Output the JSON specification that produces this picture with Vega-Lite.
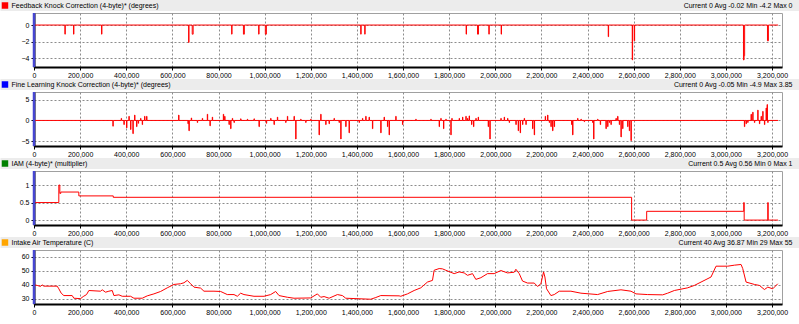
{
"$schema": "https://vega.github.io/schema/vega-lite/v6.json",
"padding": 0,
"background": "white",
"autosize": {"type": "pad"},
"config": {
  "font": "Liberation Sans",
  "view": {"stroke": "#a0a0a0"},
  "axis": {"labelFont": "Liberation Sans", "labelFontSize": 7, "labelColor": "#000", "tickColor": "#000", "tickSize": 3, "labelPadding": 2, "domainColor": "#000", "domainWidth": 2, "gridColor": "#8c8c8c", "gridDash": [2, 2], "gridWidth": 1, "title": null, "labelOverlap": false},
  "axisX": {"labelPadding": 1}
},
"datasets": {
  "fkc": [{"t":0,"v":0},{"t":134000,"v":-1.1},{"t":135500,"v":0},{"t":171400,"v":-1.1},{"t":172900,"v":0},{"t":292900,"v":-1.1},{"t":294400,"v":0},{"t":670400,"v":-2.1},{"t":671900,"v":0},{"t":686000,"v":-1.1},{"t":690000,"v":0},{"t":857000,"v":-1.1},{"t":858500,"v":0},{"t":908000,"v":-1.1},{"t":912000,"v":0},{"t":974100,"v":-1.1},{"t":975600,"v":0},{"t":1003000,"v":-1.1},{"t":1007500,"v":0},{"t":1416700,"v":-1.1},{"t":1418200,"v":0},{"t":1434000,"v":-1.1},{"t":1435500,"v":0},{"t":1873600,"v":-1.1},{"t":1875100,"v":0},{"t":1923000,"v":-1.1},{"t":1927000,"v":0},{"t":1972100,"v":-1.1},{"t":1973600,"v":0},{"t":2025400,"v":-1.1},{"t":2026900,"v":0},{"t":2489700,"v":-1.4},{"t":2491200,"v":0},{"t":2593800,"v":-4.2},{"t":2595300,"v":0},{"t":2602500,"v":-1.9},{"t":2604000,"v":0},{"t":3076000,"v":-4.2},{"t":3078500,"v":-3.7},{"t":3081000,"v":0},{"t":3180000,"v":-1.9},{"t":3184000,"v":0},{"t":3226000,"v":0}],
  "flkc": [{"t":0,"v":0},{"t":342000,"v":-1.4},{"t":343500,"v":0},{"t":378200,"v":0.5},{"t":379700,"v":0},{"t":389800,"v":-1.0},{"t":391300,"v":0},{"t":401300,"v":-1.8},{"t":402800,"v":0},{"t":411500,"v":1.0},{"t":413000,"v":0},{"t":418700,"v":-2.2},{"t":420200,"v":0},{"t":428800,"v":-3.2},{"t":430300,"v":0},{"t":436100,"v":1.3},{"t":437600,"v":0},{"t":444700,"v":-1.5},{"t":446200,"v":0},{"t":452000,"v":-0.7},{"t":453500,"v":0},{"t":462100,"v":0.5},{"t":463600,"v":0},{"t":469300,"v":-1.0},{"t":470800,"v":0},{"t":479400,"v":1.0},{"t":480900,"v":0},{"t":488100,"v":1.0},{"t":489600,"v":0},{"t":627000,"v":1.3},{"t":628500,"v":0},{"t":667500,"v":-0.8},{"t":669000,"v":0},{"t":671800,"v":-2.5},{"t":673300,"v":0},{"t":681900,"v":0.6},{"t":683400,"v":0},{"t":708000,"v":-0.5},{"t":709500,"v":0},{"t":729700,"v":0.5},{"t":731200,"v":0},{"t":751400,"v":1.5},{"t":752900,"v":0},{"t":762900,"v":-1.3},{"t":764400,"v":0},{"t":773000,"v":0.8},{"t":774500,"v":0},{"t":820800,"v":1.5},{"t":822300,"v":0},{"t":826600,"v":1.0},{"t":828100,"v":0},{"t":845400,"v":-1.0},{"t":846900,"v":0},{"t":852600,"v":-2.0},{"t":854100,"v":0},{"t":859800,"v":0.5},{"t":861300,"v":0},{"t":867100,"v":-0.5},{"t":868600,"v":0},{"t":896000,"v":0.4},{"t":897500,"v":0},{"t":924900,"v":0.3},{"t":926400,"v":0},{"t":953800,"v":0.4},{"t":955300,"v":0},{"t":975500,"v":-1.5},{"t":977000,"v":0},{"t":1007300,"v":-0.7},{"t":1008800,"v":0},{"t":1026100,"v":0.5},{"t":1027600,"v":0},{"t":1040600,"v":-1.0},{"t":1042100,"v":0},{"t":1055100,"v":0.8},{"t":1056600,"v":0},{"t":1091200,"v":-0.5},{"t":1092700,"v":0},{"t":1098500,"v":1.0},{"t":1100000,"v":0},{"t":1127400,"v":1.0},{"t":1128900,"v":0},{"t":1134600,"v":-4.5},{"t":1136100,"v":0},{"t":1156300,"v":0.3},{"t":1157800,"v":0},{"t":1178000,"v":-0.5},{"t":1179500,"v":0},{"t":1199700,"v":0.3},{"t":1201200,"v":0},{"t":1235900,"v":-3.5},{"t":1237400,"v":0},{"t":1243100,"v":1.5},{"t":1244600,"v":0},{"t":1264800,"v":-1.0},{"t":1266300,"v":0},{"t":1279300,"v":-0.8},{"t":1280800,"v":0},{"t":1300900,"v":0.5},{"t":1302400,"v":0},{"t":1322600,"v":-0.5},{"t":1324100,"v":0},{"t":1329900,"v":-4.5},{"t":1331400,"v":0},{"t":1351600,"v":-1.5},{"t":1353100,"v":0},{"t":1366000,"v":-3.0},{"t":1367500,"v":0},{"t":1409400,"v":-0.5},{"t":1410900,"v":0},{"t":1423900,"v":0.5},{"t":1425400,"v":0},{"t":1438300,"v":1.0},{"t":1439800,"v":0},{"t":1452800,"v":0.8},{"t":1454300,"v":0},{"t":1467300,"v":-2.0},{"t":1468800,"v":0},{"t":1503400,"v":-3.0},{"t":1504900,"v":0},{"t":1517900,"v":0.8},{"t":1519400,"v":0},{"t":1532400,"v":-1.5},{"t":1533900,"v":0},{"t":1539600,"v":-3.5},{"t":1541100,"v":0},{"t":1568500,"v":1.0},{"t":1570000,"v":0},{"t":1597500,"v":-1.0},{"t":1599000,"v":0},{"t":1655300,"v":0.3},{"t":1656800,"v":0},{"t":1720400,"v":0.3},{"t":1721900,"v":0},{"t":1756600,"v":-1.5},{"t":1758100,"v":0},{"t":1763800,"v":0.5},{"t":1765300,"v":0},{"t":1775400,"v":-2.0},{"t":1776900,"v":0},{"t":1785500,"v":0.3},{"t":1787000,"v":0},{"t":1807200,"v":-3.5},{"t":1808700,"v":0},{"t":1811500,"v":0.5},{"t":1813000,"v":0},{"t":1843300,"v":0.5},{"t":1844800,"v":0},{"t":1857800,"v":0.8},{"t":1859300,"v":0},{"t":1872300,"v":1.0},{"t":1873800,"v":0},{"t":1879500,"v":0.5},{"t":1881000,"v":0},{"t":1886700,"v":1.1},{"t":1888200,"v":0},{"t":1896900,"v":-1.0},{"t":1898400,"v":0},{"t":1905500,"v":-1.5},{"t":1907000,"v":0},{"t":1915700,"v":0.5},{"t":1917200,"v":0},{"t":1925800,"v":0.8},{"t":1927300,"v":0},{"t":1969200,"v":-1.5},{"t":1970700,"v":0},{"t":1976400,"v":-4.5},{"t":1977900,"v":0},{"t":2024100,"v":0.5},{"t":2025600,"v":0},{"t":2038600,"v":0.8},{"t":2040100,"v":0},{"t":2053100,"v":0.5},{"t":2054600,"v":0},{"t":2060300,"v":-0.5},{"t":2061800,"v":0},{"t":2089200,"v":-1.0},{"t":2090700,"v":0},{"t":2099300,"v":-2.5},{"t":2100800,"v":0},{"t":2108000,"v":-3.0},{"t":2109500,"v":0},{"t":2118100,"v":-1.0},{"t":2119600,"v":0},{"t":2125400,"v":0.5},{"t":2126900,"v":0},{"t":2132600,"v":-1.0},{"t":2134100,"v":0},{"t":2161500,"v":-2.0},{"t":2163000,"v":0},{"t":2168800,"v":-3.5},{"t":2170300,"v":0},{"t":2216500,"v":1.0},{"t":2218000,"v":0},{"t":2226600,"v":1.3},{"t":2228100,"v":0},{"t":2233900,"v":-0.5},{"t":2235400,"v":0},{"t":2241100,"v":-1.5},{"t":2242600,"v":0},{"t":2248300,"v":-2.5},{"t":2249800,"v":0},{"t":2255500,"v":-1.5},{"t":2257000,"v":0},{"t":2330800,"v":-1.0},{"t":2332300,"v":0},{"t":2335100,"v":-3.5},{"t":2336600,"v":0},{"t":2356800,"v":0.5},{"t":2358300,"v":0},{"t":2371300,"v":0.3},{"t":2372800,"v":0},{"t":2385700,"v":-0.3},{"t":2387200,"v":0},{"t":2421900,"v":-0.5},{"t":2423400,"v":0},{"t":2426200,"v":-4.5},{"t":2427700,"v":0},{"t":2443600,"v":0.3},{"t":2445100,"v":0},{"t":2455100,"v":-1.0},{"t":2456600,"v":0},{"t":2479700,"v":-2.0},{"t":2481200,"v":0},{"t":2487000,"v":-1.5},{"t":2488500,"v":0},{"t":2494200,"v":-0.5},{"t":2495700,"v":0},{"t":2501400,"v":-1.0},{"t":2502900,"v":0},{"t":2523100,"v":0.5},{"t":2524600,"v":0},{"t":2530300,"v":1.0},{"t":2531800,"v":0},{"t":2537600,"v":-1.0},{"t":2539100,"v":0},{"t":2544800,"v":-4.0},{"t":2546300,"v":0},{"t":2552000,"v":-2.0},{"t":2553500,"v":0},{"t":2573700,"v":-1.5},{"t":2575200,"v":0},{"t":2581000,"v":-2.5},{"t":2582500,"v":0},{"t":2588200,"v":-4.9},{"t":2589700,"v":0},{"t":3079900,"v":-1.5},{"t":3081400,"v":0},{"t":3087200,"v":-0.8},{"t":3088700,"v":0},{"t":3094400,"v":-0.5},{"t":3095900,"v":0},{"t":3108900,"v":1.5},{"t":3110400,"v":0},{"t":3116100,"v":2.0},{"t":3117600,"v":0},{"t":3123400,"v":-0.5},{"t":3124900,"v":0},{"t":3137800,"v":2.5},{"t":3139300,"v":0},{"t":3145100,"v":-0.8},{"t":3146600,"v":0},{"t":3152300,"v":1.0},{"t":3153800,"v":0},{"t":3159500,"v":2.2},{"t":3161000,"v":0},{"t":3166800,"v":-1.0},{"t":3168300,"v":0},{"t":3174000,"v":3.0},{"t":3175500,"v":0},{"t":3178400,"v":3.85},{"t":3179900,"v":0},{"t":3181300,"v":-0.5},{"t":3182800,"v":0},{"t":3226000,"v":0}],
  "iam": [{"t":0,"v":0.5},{"t":107600,"v":1.0},{"t":112000,"v":0.76},{"t":116000,"v":0.8},{"t":194400,"v":0.69},{"t":343600,"v":0.65},{"t":2591000,"v":0},{"t":2656300,"v":0.25},{"t":3077200,"v":0.5},{"t":3079000,"v":0},{"t":3181400,"v":0.5},{"t":3183000,"v":0},{"t":3226000,"v":0}],
  "iat": [{"t":0,"v":40.1},{"t":13700,"v":39.6},{"t":28200,"v":38.9},{"t":35400,"v":40.0},{"t":42700,"v":39.1},{"t":100500,"v":39.1},{"t":107700,"v":37.2},{"t":117900,"v":34.1},{"t":129400,"v":32.4},{"t":165600,"v":32.4},{"t":172800,"v":30.5},{"t":201800,"v":30.2},{"t":213300,"v":31.7},{"t":227800,"v":33.1},{"t":237900,"v":36.0},{"t":288500,"v":35.5},{"t":295800,"v":36.5},{"t":310200,"v":34.8},{"t":324700,"v":35.5},{"t":339200,"v":36.0},{"t":346400,"v":32.4},{"t":368100,"v":32.9},{"t":382600,"v":31.9},{"t":418700,"v":31.9},{"t":433200,"v":30.5},{"t":469300,"v":30.5},{"t":491000,"v":32.2},{"t":519900,"v":33.6},{"t":548900,"v":35.3},{"t":577800,"v":37.9},{"t":606700,"v":40.3},{"t":635600,"v":40.8},{"t":650100,"v":41.5},{"t":664600,"v":43.2},{"t":679000,"v":40.8},{"t":693500,"v":38.4},{"t":722400,"v":37.7},{"t":736900,"v":35.5},{"t":780300,"v":35.5},{"t":809200,"v":35.3},{"t":838100,"v":33.1},{"t":867100,"v":33.1},{"t":881500,"v":31.9},{"t":896000,"v":34.1},{"t":910400,"v":33.1},{"t":953800,"v":31.9},{"t":997200,"v":31.9},{"t":1026100,"v":33.1},{"t":1047800,"v":35.3},{"t":1062300,"v":32.4},{"t":1098500,"v":31.2},{"t":1127400,"v":30.5},{"t":1199700,"v":30.7},{"t":1228600,"v":33.6},{"t":1243100,"v":31.2},{"t":1257600,"v":31.7},{"t":1279300,"v":30.5},{"t":1315400,"v":33.1},{"t":1337100,"v":32.4},{"t":1351600,"v":30.5},{"t":1460100,"v":29.8},{"t":1481800,"v":31.0},{"t":1503400,"v":32.4},{"t":1583000,"v":32.2},{"t":1590200,"v":31.9},{"t":1619200,"v":33.6},{"t":1648100,"v":36.0},{"t":1677000,"v":37.9},{"t":1705900,"v":42.0},{"t":1727600,"v":43.2},{"t":1734900,"v":50.4},{"t":1756600,"v":51.6},{"t":1771000,"v":51.4},{"t":1785500,"v":50.4},{"t":1821700,"v":48.0},{"t":1843300,"v":49.2},{"t":1865100,"v":48.5},{"t":1879500,"v":46.8},{"t":1901200,"v":48.0},{"t":1915700,"v":43.9},{"t":1937400,"v":45.1},{"t":1966300,"v":48.0},{"t":1995200,"v":48.0},{"t":2024100,"v":50.2},{"t":2053100,"v":48.5},{"t":2082000,"v":49.0},{"t":2089200,"v":51.1},{"t":2103700,"v":48.0},{"t":2118100,"v":42.7},{"t":2139900,"v":41.3},{"t":2168800,"v":41.3},{"t":2183200,"v":38.9},{"t":2197700,"v":40.8},{"t":2209300,"v":49.2},{"t":2215000,"v":45.6},{"t":2222300,"v":37.2},{"t":2241100,"v":32.4},{"t":2255500,"v":33.1},{"t":2277200,"v":35.5},{"t":2327800,"v":35.5},{"t":2371300,"v":34.1},{"t":2443600,"v":33.1},{"t":2487000,"v":35.3},{"t":2544800,"v":36.5},{"t":2588200,"v":35.5},{"t":2609900,"v":33.6},{"t":2660500,"v":33.1},{"t":2725600,"v":32.9},{"t":2747300,"v":34.1},{"t":2776200,"v":36.0},{"t":2834100,"v":37.9},{"t":2863000,"v":39.6},{"t":2891900,"v":42.0},{"t":2935300,"v":45.6},{"t":2957000,"v":53.3},{"t":3007600,"v":53.3},{"t":3036500,"v":54.0},{"t":3065500,"v":54.5},{"t":3072700,"v":51.6},{"t":3087200,"v":42.0},{"t":3123400,"v":40.3},{"t":3145100,"v":39.6},{"t":3166800,"v":36.7},{"t":3181300,"v":38.4},{"t":3202900,"v":37.2},{"t":3224600,"v":40.8}]
},
"columns": 1,
"spacing": 0,
"concat": [
 {"columns": 1, "spacing": 0, "concat": [
  {"width": 748, "height": 11, "view": {"stroke": null},
   "data": {"values": [{"title": "Feedback Knock Correction (4-byte)* (degrees)", "stats": "Current 0 Avg -0.02 Min -4.2 Max 0"}]},
   "layer": [
    {"mark": {"type": "rect", "clip": false, "color": "#ececec"}, "encoding": {"x": {"datum": -0.0448, "type": "quantitative", "scale": {"domain": [0, 1]}, "axis": null}, "x2": {"datum": 1.0234}, "y": {"datum": 0, "type": "quantitative", "scale": {"domain": [0, 1]}, "axis": null}, "y2": {"datum": 1}}},
    {"mark": {"type": "square", "size": 42, "color": "#ff0000", "opacity": 1, "filled": true, "clip": false}, "encoding": {"x": {"datum": -0.0388, "type": "quantitative", "scale": {"domain": [0, 1]}}, "y": {"datum": 0.5, "type": "quantitative", "scale": {"domain": [0, 1]}}}},
    {"mark": {"type": "text", "align": "left", "baseline": "middle", "fontSize": 7, "color": "#000", "clip": false}, "encoding": {"x": {"datum": -0.0301, "type": "quantitative", "scale": {"domain": [0, 1]}}, "y": {"datum": 0.5, "type": "quantitative", "scale": {"domain": [0, 1]}}, "text": {"field": "title"}}},
    {"mark": {"type": "text", "align": "right", "baseline": "middle", "fontSize": 7, "color": "#000", "clip": false}, "encoding": {"x": {"datum": 1.014, "type": "quantitative", "scale": {"domain": [0, 1]}}, "y": {"datum": 0.5, "type": "quantitative", "scale": {"domain": [0, 1]}}, "text": {"field": "stats"}}}
   ]},
  {"width": 748, "height": 54,
   "layer": [
    {"data": {"name": "fkc"}, "mark": {"type": "line", "color": "#ff0000", "strokeWidth": 1, "interpolate": "step-after", "clip": true}, "encoding": {"x": {"field": "t", "type": "quantitative", "scale": {"domain": [0, 3243000], "nice": false}, "axis": {"values": [0,50000,100000,150000,200000,250000,300000,350000,400000,450000,500000,550000,600000,650000,700000,750000,800000,850000,900000,950000,1000000,1050000,1100000,1150000,1200000,1250000,1300000,1350000,1400000,1450000,1500000,1550000,1600000,1650000,1700000,1750000,1800000,1850000,1900000,1950000,2000000,2050000,2100000,2150000,2200000,2250000,2300000,2350000,2400000,2450000,2500000,2550000,2600000,2650000,2700000,2750000,2800000,2850000,2900000,2950000,3000000,3050000,3100000,3150000,3200000], "labelExpr": "datum.value % 200000 === 0 ? format(datum.value, ',d') : ''", "labelFlush": false, "labelOverlap": false, "grid": true, "gridOpacity": {"condition": {"test": "datum.value % 200000 === 0", "value": 1}, "value": 0}}}, "y": {"field": "v", "type": "quantitative", "scale": {"domain": [-5.05, 1.45], "nice": false, "zero": false}, "axis": {"values": [-4, -2, 0], "labelOverlap": false, "grid": true}}}},
    {"data": {"values": [{"cursor": 0}]}, "mark": {"type": "rule", "color": "#4646d2", "strokeWidth": 2.5}, "encoding": {"x": {"field": "cursor", "type": "quantitative"}}}
   ]}
 ]},
 {"columns": 1, "spacing": 0, "concat": [
  {"width": 748, "height": 11, "view": {"stroke": null},
   "data": {"values": [{"title": "Fine Learning Knock Correction (4-byte)* (degrees)", "stats": "Current 0 Avg -0.05 Min -4.9 Max 3.85"}]},
   "layer": [
    {"mark": {"type": "rect", "clip": false, "color": "#ececec"}, "encoding": {"x": {"datum": -0.0448, "type": "quantitative", "scale": {"domain": [0, 1]}, "axis": null}, "x2": {"datum": 1.0234}, "y": {"datum": 0, "type": "quantitative", "scale": {"domain": [0, 1]}, "axis": null}, "y2": {"datum": 1}}},
    {"mark": {"type": "square", "size": 42, "color": "#0000ff", "opacity": 1, "filled": true, "clip": false}, "encoding": {"x": {"datum": -0.0388, "type": "quantitative", "scale": {"domain": [0, 1]}}, "y": {"datum": 0.5, "type": "quantitative", "scale": {"domain": [0, 1]}}}},
    {"mark": {"type": "text", "align": "left", "baseline": "middle", "fontSize": 7, "color": "#000", "clip": false}, "encoding": {"x": {"datum": -0.0301, "type": "quantitative", "scale": {"domain": [0, 1]}}, "y": {"datum": 0.5, "type": "quantitative", "scale": {"domain": [0, 1]}}, "text": {"field": "title"}}},
    {"mark": {"type": "text", "align": "right", "baseline": "middle", "fontSize": 7, "color": "#000", "clip": false}, "encoding": {"x": {"datum": 1.014, "type": "quantitative", "scale": {"domain": [0, 1]}}, "y": {"datum": 0.5, "type": "quantitative", "scale": {"domain": [0, 1]}}, "text": {"field": "stats"}}}
   ]},
  {"width": 748, "height": 54,
   "layer": [
    {"data": {"name": "flkc"}, "mark": {"type": "line", "color": "#ff0000", "strokeWidth": 1, "interpolate": "step-after", "clip": true}, "encoding": {"x": {"field": "t", "type": "quantitative", "scale": {"domain": [0, 3243000], "nice": false}, "axis": {"values": [0,50000,100000,150000,200000,250000,300000,350000,400000,450000,500000,550000,600000,650000,700000,750000,800000,850000,900000,950000,1000000,1050000,1100000,1150000,1200000,1250000,1300000,1350000,1400000,1450000,1500000,1550000,1600000,1650000,1700000,1750000,1800000,1850000,1900000,1950000,2000000,2050000,2100000,2150000,2200000,2250000,2300000,2350000,2400000,2450000,2500000,2550000,2600000,2650000,2700000,2750000,2800000,2850000,2900000,2950000,3000000,3050000,3100000,3150000,3200000], "labelExpr": "datum.value % 200000 === 0 ? format(datum.value, ',d') : ''", "labelFlush": false, "labelOverlap": false, "grid": true, "gridOpacity": {"condition": {"test": "datum.value % 200000 === 0", "value": 1}, "value": 0}}}, "y": {"field": "v", "type": "quantitative", "scale": {"domain": [-6.2, 6.9], "nice": false, "zero": false}, "axis": {"values": [-5, 0, 5], "labelOverlap": false, "grid": true}}}},
    {"data": {"values": [{"cursor": 0}]}, "mark": {"type": "rule", "color": "#4646d2", "strokeWidth": 2.5}, "encoding": {"x": {"field": "cursor", "type": "quantitative"}}}
   ]}
 ]},
 {"columns": 1, "spacing": 0, "concat": [
  {"width": 748, "height": 11, "view": {"stroke": null},
   "data": {"values": [{"title": "IAM (4-byte)* (multiplier)", "stats": "Current 0.5 Avg 0.56 Min 0 Max 1"}]},
   "layer": [
    {"mark": {"type": "rect", "clip": false, "color": "#ececec"}, "encoding": {"x": {"datum": -0.0448, "type": "quantitative", "scale": {"domain": [0, 1]}, "axis": null}, "x2": {"datum": 1.0234}, "y": {"datum": 0, "type": "quantitative", "scale": {"domain": [0, 1]}, "axis": null}, "y2": {"datum": 1}}},
    {"mark": {"type": "square", "size": 42, "color": "#008000", "opacity": 1, "filled": true, "clip": false}, "encoding": {"x": {"datum": -0.0388, "type": "quantitative", "scale": {"domain": [0, 1]}}, "y": {"datum": 0.5, "type": "quantitative", "scale": {"domain": [0, 1]}}}},
    {"mark": {"type": "text", "align": "left", "baseline": "middle", "fontSize": 7, "color": "#000", "clip": false}, "encoding": {"x": {"datum": -0.0301, "type": "quantitative", "scale": {"domain": [0, 1]}}, "y": {"datum": 0.5, "type": "quantitative", "scale": {"domain": [0, 1]}}, "text": {"field": "title"}}},
    {"mark": {"type": "text", "align": "right", "baseline": "middle", "fontSize": 7, "color": "#000", "clip": false}, "encoding": {"x": {"datum": 1.014, "type": "quantitative", "scale": {"domain": [0, 1]}}, "y": {"datum": 0.5, "type": "quantitative", "scale": {"domain": [0, 1]}}, "text": {"field": "stats"}}}
   ]},
  {"width": 748, "height": 54,
   "layer": [
    {"data": {"name": "iam"}, "mark": {"type": "line", "color": "#ff0000", "strokeWidth": 1, "interpolate": "step-after", "clip": true}, "encoding": {"x": {"field": "t", "type": "quantitative", "scale": {"domain": [0, 3243000], "nice": false}, "axis": {"values": [0,50000,100000,150000,200000,250000,300000,350000,400000,450000,500000,550000,600000,650000,700000,750000,800000,850000,900000,950000,1000000,1050000,1100000,1150000,1200000,1250000,1300000,1350000,1400000,1450000,1500000,1550000,1600000,1650000,1700000,1750000,1800000,1850000,1900000,1950000,2000000,2050000,2100000,2150000,2200000,2250000,2300000,2350000,2400000,2450000,2500000,2550000,2600000,2650000,2700000,2750000,2800000,2850000,2900000,2950000,3000000,3050000,3100000,3150000,3200000], "labelExpr": "datum.value % 200000 === 0 ? format(datum.value, ',d') : ''", "labelFlush": false, "labelOverlap": false, "grid": true, "gridOpacity": {"condition": {"test": "datum.value % 200000 === 0", "value": 1}, "value": 0}}}, "y": {"field": "v", "type": "quantitative", "scale": {"domain": [-0.14, 1.4], "nice": false, "zero": false}, "axis": {"values": [0, 0.5, 1], "format": "~g", "labelOverlap": false, "grid": true}}}},
    {"data": {"values": [{"cursor": 0}]}, "mark": {"type": "rule", "color": "#4646d2", "strokeWidth": 2.5}, "encoding": {"x": {"field": "cursor", "type": "quantitative"}}}
   ]}
 ]},
 {"columns": 1, "spacing": 0, "concat": [
  {"width": 748, "height": 11, "view": {"stroke": null},
   "data": {"values": [{"title": "Intake Air Temperature (C)", "stats": "Current 40 Avg 36.87 Min 29 Max 55"}]},
   "layer": [
    {"mark": {"type": "rect", "clip": false, "color": "#ececec"}, "encoding": {"x": {"datum": -0.0448, "type": "quantitative", "scale": {"domain": [0, 1]}, "axis": null}, "x2": {"datum": 1.0234}, "y": {"datum": 0, "type": "quantitative", "scale": {"domain": [0, 1]}, "axis": null}, "y2": {"datum": 1}}},
    {"mark": {"type": "square", "size": 42, "color": "#ffa500", "opacity": 1, "filled": true, "clip": false}, "encoding": {"x": {"datum": -0.0388, "type": "quantitative", "scale": {"domain": [0, 1]}}, "y": {"datum": 0.5, "type": "quantitative", "scale": {"domain": [0, 1]}}}},
    {"mark": {"type": "text", "align": "left", "baseline": "middle", "fontSize": 7, "color": "#000", "clip": false}, "encoding": {"x": {"datum": -0.0301, "type": "quantitative", "scale": {"domain": [0, 1]}}, "y": {"datum": 0.5, "type": "quantitative", "scale": {"domain": [0, 1]}}, "text": {"field": "title"}}},
    {"mark": {"type": "text", "align": "right", "baseline": "middle", "fontSize": 7, "color": "#000", "clip": false}, "encoding": {"x": {"datum": 1.014, "type": "quantitative", "scale": {"domain": [0, 1]}}, "y": {"datum": 0.5, "type": "quantitative", "scale": {"domain": [0, 1]}}, "text": {"field": "stats"}}}
   ]},
  {"width": 748, "height": 54,
   "layer": [
    {"data": {"name": "iat"}, "mark": {"type": "line", "color": "#ff0000", "strokeWidth": 1, "clip": true}, "encoding": {"x": {"field": "t", "type": "quantitative", "scale": {"domain": [0, 3243000], "nice": false}, "axis": {"values": [0,50000,100000,150000,200000,250000,300000,350000,400000,450000,500000,550000,600000,650000,700000,750000,800000,850000,900000,950000,1000000,1050000,1100000,1150000,1200000,1250000,1300000,1350000,1400000,1450000,1500000,1550000,1600000,1650000,1700000,1750000,1800000,1850000,1900000,1950000,2000000,2050000,2100000,2150000,2200000,2250000,2300000,2350000,2400000,2450000,2500000,2550000,2600000,2650000,2700000,2750000,2800000,2850000,2900000,2950000,3000000,3050000,3100000,3150000,3200000], "labelExpr": "datum.value % 200000 === 0 ? format(datum.value, ',d') : ''", "labelFlush": false, "labelOverlap": false, "grid": true, "gridOpacity": {"condition": {"test": "datum.value % 200000 === 0", "value": 1}, "value": 0}}}, "y": {"field": "v", "type": "quantitative", "scale": {"domain": [26.4, 64.8], "nice": false, "zero": false}, "axis": {"values": [30, 40, 50, 60], "labelOverlap": false, "grid": true}}}},
    {"data": {"values": [{"cursor": 0}]}, "mark": {"type": "rule", "color": "#4646d2", "strokeWidth": 2.5}, "encoding": {"x": {"field": "cursor", "type": "quantitative"}}}
   ]}
 ]}
]
}
